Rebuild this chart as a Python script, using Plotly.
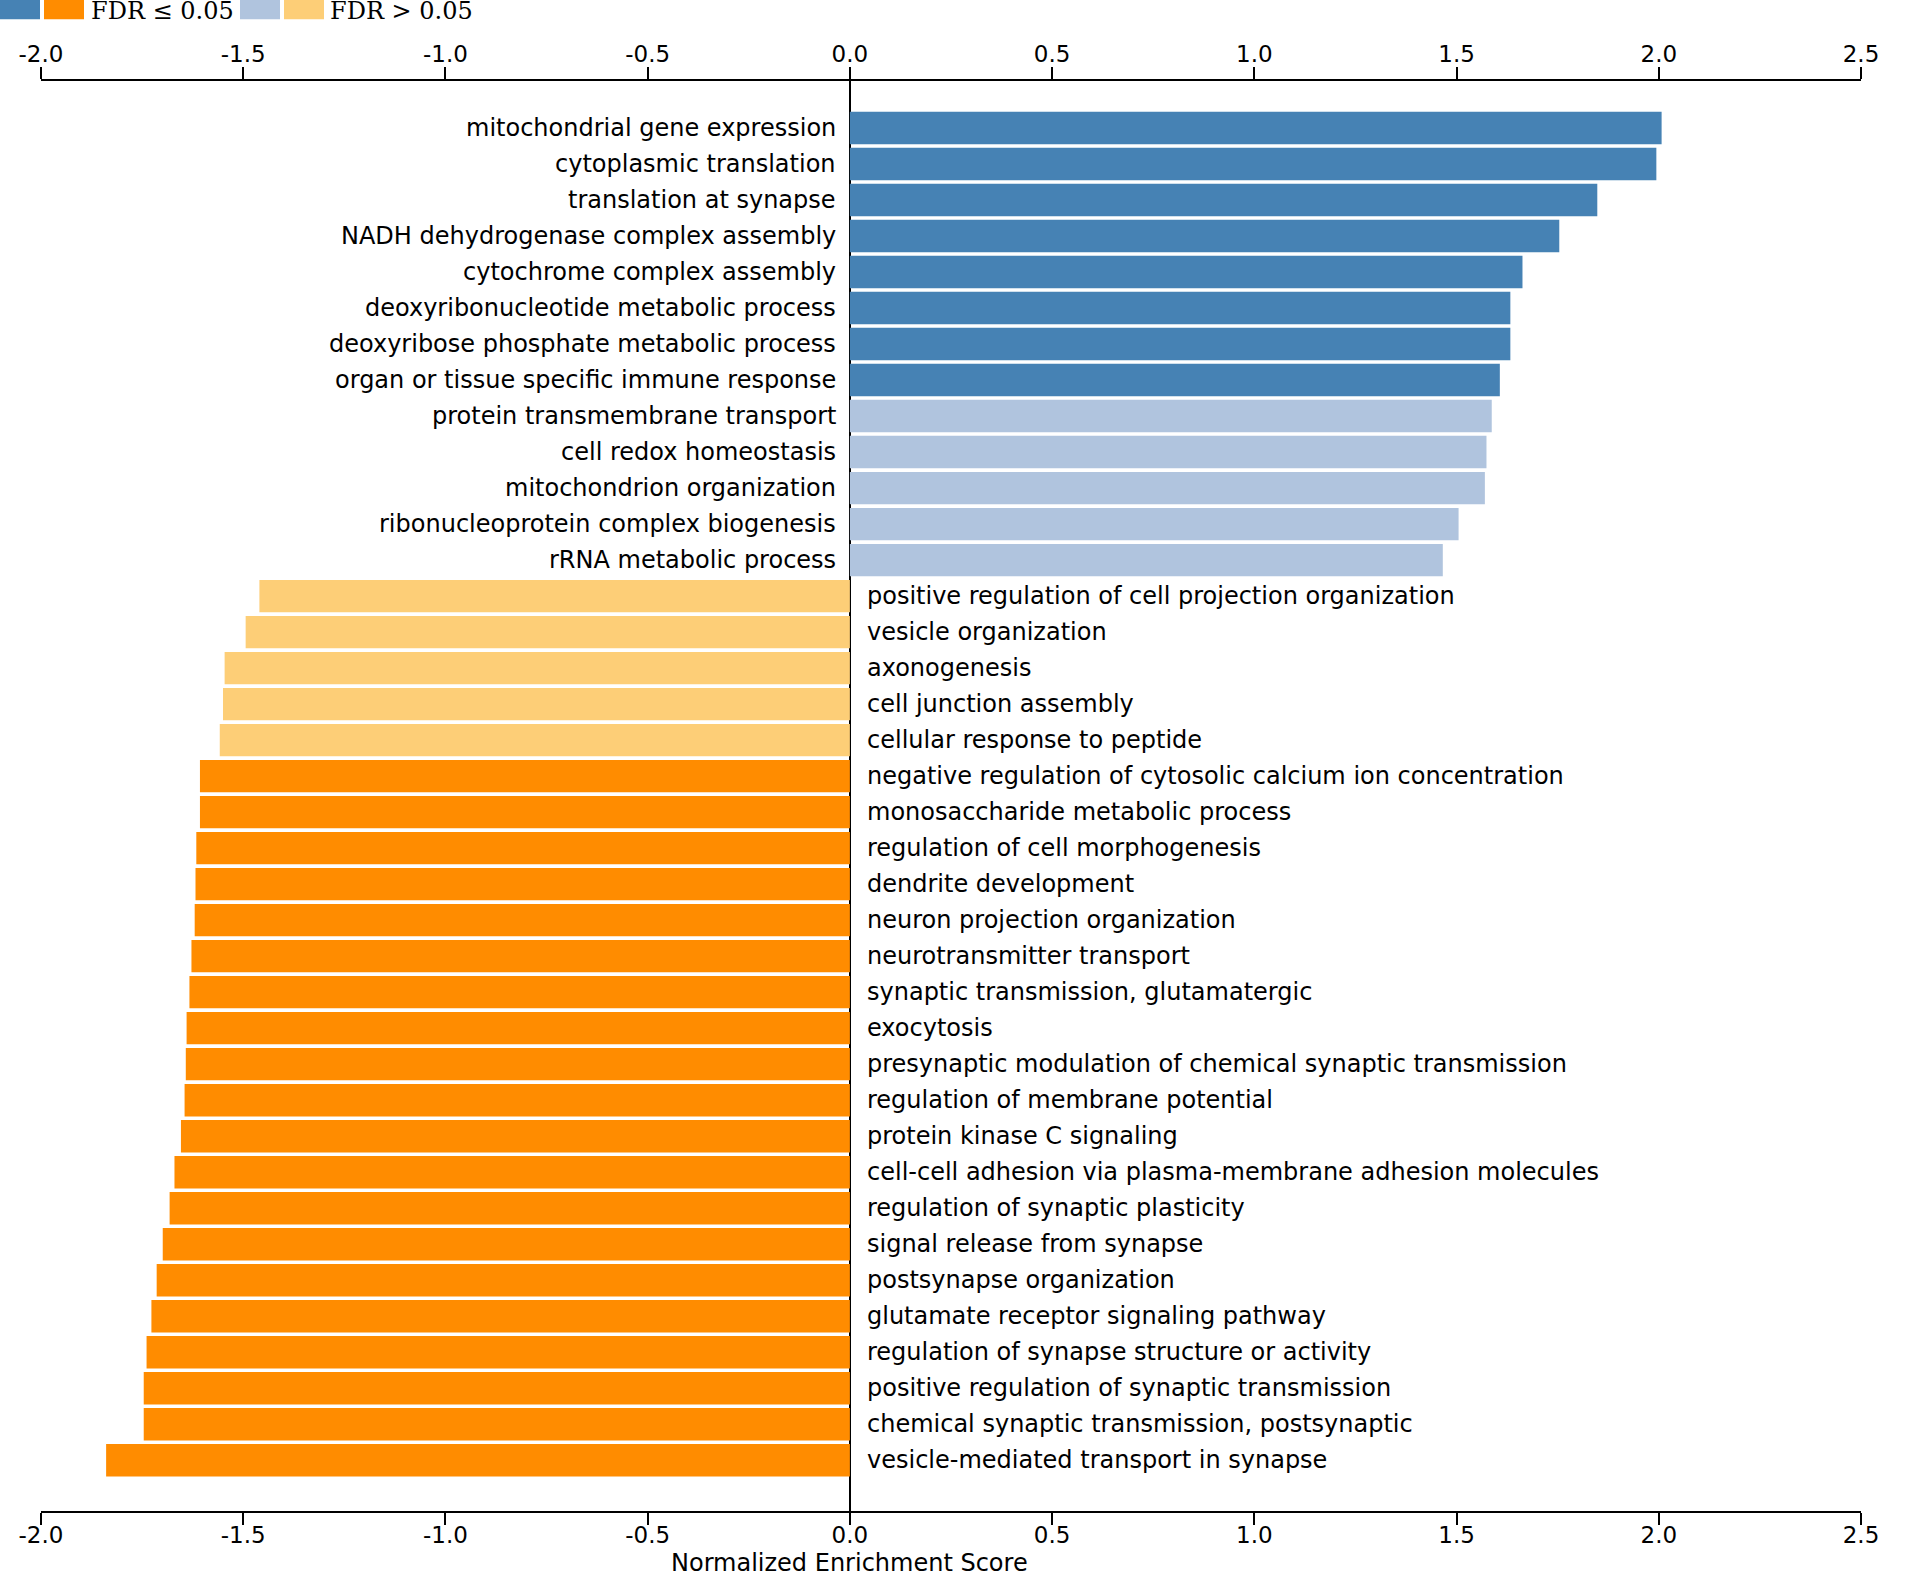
import plotly.graph_objects as go

terms = [
    "mitochondrial gene expression",
    "cytoplasmic translation",
    "translation at synapse",
    "NADH dehydrogenase complex assembly",
    "cytochrome complex assembly",
    "deoxyribonucleotide metabolic process",
    "deoxyribose phosphate metabolic process",
    "organ or tissue specific immune response",
    "protein transmembrane transport",
    "cell redox homeostasis",
    "mitochondrion organization",
    "ribonucleoprotein complex biogenesis",
    "rRNA metabolic process",
    "positive regulation of cell projection organization",
    "vesicle organization",
    "axonogenesis",
    "cell junction assembly",
    "cellular response to peptide",
    "negative regulation of cytosolic calcium ion concentration",
    "monosaccharide metabolic process",
    "regulation of cell morphogenesis",
    "dendrite development",
    "neuron projection organization",
    "neurotransmitter transport",
    "synaptic transmission, glutamatergic",
    "exocytosis",
    "presynaptic modulation of chemical synaptic transmission",
    "regulation of membrane potential",
    "protein kinase C signaling",
    "cell-cell adhesion via plasma-membrane adhesion molecules",
    "regulation of synaptic plasticity",
    "signal release from synapse",
    "postsynapse organization",
    "glutamate receptor signaling pathway",
    "regulation of synapse structure or activity",
    "positive regulation of synaptic transmission",
    "chemical synaptic transmission, postsynaptic",
    "vesicle-mediated transport in synapse",
]

nes = [
    2.007, 1.994, 1.848, 1.754, 1.663, 1.633, 1.633, 1.607, 1.587, 1.574,
    1.570, 1.505, 1.466,
    -1.460, -1.494, -1.546, -1.550, -1.558, -1.607, -1.607, -1.616, -1.618,
    -1.620, -1.628, -1.633, -1.640, -1.642, -1.645, -1.654, -1.670, -1.682,
    -1.699, -1.714, -1.727, -1.739, -1.746, -1.746, -1.839,
]

fdr_significant = [
    True, True, True, True, True, True, True, True, False, False,
    False, False, False,
    False, False, False, False, False, True, True, True, True,
    True, True, True, True, True, True, True, True, True,
    True, True, True, True, True, True, True,
]

x_ticks = [-2.0, -1.5, -1.0, -0.5, 0.0, 0.5, 1.0, 1.5, 2.0, 2.5]
x_tick_labels = ["-2.0", "-1.5", "-1.0", "-0.5", "0.0", "0.5", "1.0", "1.5", "2.0", "2.5"]

legend_labels = ["FDR \u2264 0.05", "FDR > 0.05"]

COL_POS_SIG = "#4682B4"
COL_NEG_SIG = "#FF8C00"
COL_POS_NS = "#B0C4DE"
COL_NEG_NS = "#FDCE77"


def bar_color(v, sig):
    if v >= 0:
        return COL_POS_SIG if sig else COL_POS_NS
    return COL_NEG_SIG if sig else COL_NEG_NS


colors = [bar_color(v, s) for v, s in zip(nes, fdr_significant)]

SANS = "DejaVu Sans"
SERIF = "DejaVu Serif"

fig = go.Figure()
fig.add_trace(go.Bar(
    x=nes, y=terms, orientation="h",
    marker=dict(color=colors, line=dict(width=0)),
    showlegend=False, hoverinfo="x+y",
))
# invisible anchor trace for the top axis
fig.add_trace(go.Scatter(
    x=nes, y=terms, xaxis="x2", yaxis="y", mode="markers",
    marker=dict(size=1, opacity=0), showlegend=False, hoverinfo="skip",
))

axis_common = dict(
    range=[-2.0, 2.5], autorange=False,
    tickmode="array", tickvals=x_ticks, ticktext=x_tick_labels,
    ticks="outside", ticklen=12, tickwidth=1.6, tickcolor="black",
    showline=True, linewidth=2, linecolor="black",
    showgrid=False,
    tickfont=dict(family=SANS, size=23, color="black"),
)

fig.update_layout(
    width=1920, height=1590,
    margin=dict(l=41, r=59, t=81, b=79, pad=0),
    paper_bgcolor="white", plot_bgcolor="white",
    bargap=0.1,
    xaxis=dict(**axis_common, side="bottom", ticklabelstandoff=-10,
               zeroline=True, zerolinecolor="black", zerolinewidth=1.6),
    xaxis2=dict(**axis_common, side="top", overlaying="x", matches="x",
                ticklabelstandoff=-4, zeroline=False),
    yaxis=dict(type="category", categoryorder="array", categoryarray=terms,
               range=[38.41, -1.306], autorange=False,
               showticklabels=False, showline=False, showgrid=False,
               zeroline=False, ticks=""),
    font=dict(family=SANS, size=24, color="black"),
)

# term labels beside the zero line
for term, v in zip(terms, nes):
    pos = v >= 0
    fig.add_annotation(
        text=term, x=0, xref="x", y=term, yref="y",
        xanchor="right" if pos else "left", yanchor="middle",
        xshift=-11.5 if pos else 15, yshift=0, showarrow=False,
        font=dict(family=SANS, size=24, color="black"),
    )

# axis title centred on zero, as in the reference
fig.add_annotation(
    text="Normalized Enrichment Score", x=0, xref="x", y=0, yref="paper",
    yanchor="middle", xanchor="center", yshift=-52, showarrow=False,
    font=dict(family=SANS, size=24, color="black"),
)

# legend drawn at the top-left corner (partially cut off, as in the reference)
swatches = [(0, COL_POS_SIG), (44, COL_NEG_SIG), (240, COL_POS_NS), (284, COL_NEG_NS)]
for px, col in swatches:
    fig.add_shape(
        type="rect", xref="paper", yref="paper",
        xsizemode="pixel", ysizemode="pixel",
        xanchor=0, yanchor=1,
        x0=px - 41, x1=px + 40 - 41, y0=81 - 19.3, y1=81 + 10,
        fillcolor=col, line=dict(width=0), layer="above",
    )
for px, lab in [(90.7, legend_labels[0]), (330, legend_labels[1])]:
    fig.add_annotation(
        text=lab, xref="paper", yref="paper", x=0, y=1,
        xanchor="left", yanchor="middle", xshift=px - 41 - 2, yshift=81 - 11,
        showarrow=False, font=dict(family=SERIF, size=24, color="black"),
    )

fig.write_html("out.html")
